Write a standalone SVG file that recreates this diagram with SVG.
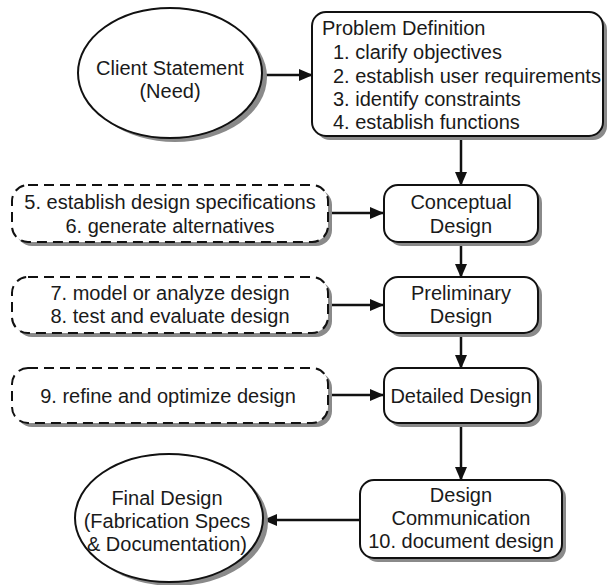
<svg xmlns="http://www.w3.org/2000/svg" width="607" height="585" viewBox="0 0 607 585">
<style>
.box{fill:#fff;stroke:#111;stroke-width:2}
.dash{fill:#fff;stroke:#111;stroke-width:2;stroke-dasharray:10 6}
.sh{fill:#8a8a8a}
.t{font-family:"Liberation Sans",Arial,sans-serif;font-size:20px;fill:#1a1a1a}
.c{text-anchor:middle}
.conn{stroke:#111;stroke-width:2.5;fill:none;marker-end:url(#ah)}
</style>
<defs>
<marker id="ah" markerUnits="userSpaceOnUse" markerWidth="14" markerHeight="12" refX="13" refY="6" orient="auto"><path d="M0,0 L14,6 L0,12 z" fill="#111"/></marker>
</defs>
<rect width="607" height="585" fill="#fff"/>
<g id="connectors">
<path class="conn" d="M263,75 L312,75"/>
<path class="conn" d="M461,136 L461,185"/>
<path class="conn" d="M328,213 L383,213"/>
<path class="conn" d="M461,242 L461,277"/>
<path class="conn" d="M328,305 L383,305"/>
<path class="conn" d="M461,333 L461,368"/>
<path class="conn" d="M328,395 L383,395"/>
<path class="conn" d="M461,423 L461,480"/>
<path class="conn" d="M360,520 L264,520"/>
</g>
<g id="client">
<ellipse class="sh" cx="175" cy="77" rx="92" ry="65"/>
<ellipse class="box" cx="170" cy="73" rx="92" ry="65"/>
<text class="t c" x="170" y="75">Client Statement</text>
<text class="t c" x="170" y="98">(Need)</text>
</g>
<g id="problem">
<rect class="sh" x="316" y="16" width="291" height="124" rx="14"/>
<rect class="box" x="312" y="12" width="291" height="124" rx="14"/>
<text class="t" x="322" y="35">Problem Definition</text>
<text class="t" x="333" y="59">1. clarify objectives</text>
<text class="t" x="333" y="83">2. establish user requirements</text>
<text class="t" x="333" y="106">3. identify constraints</text>
<text class="t" x="333" y="129">4. establish functions</text>
</g>
<g id="spec">
<rect class="sh" x="16" y="189" width="316" height="57" rx="16"/>
<rect class="dash" x="12" y="185" width="316" height="57" rx="16"/>
<text class="t c" x="170" y="209">5. establish design specifications</text>
<text class="t c" x="170" y="233">6. generate alternatives</text>
</g>
<g id="conceptual">
<rect class="sh" x="388" y="189" width="154" height="57" rx="14"/>
<rect class="box" x="384" y="185" width="154" height="57" rx="14"/>
<text class="t c" x="461" y="209">Conceptual</text>
<text class="t c" x="461" y="233">Design</text>
</g>
<g id="model">
<rect class="sh" x="16" y="281" width="316" height="56" rx="16"/>
<rect class="dash" x="12" y="277" width="316" height="56" rx="16"/>
<text class="t c" x="170" y="300">7. model or analyze design</text>
<text class="t c" x="170" y="323">8. test and evaluate design</text>
</g>
<g id="preliminary">
<rect class="sh" x="388" y="281" width="154" height="56" rx="14"/>
<rect class="box" x="384" y="277" width="154" height="56" rx="14"/>
<text class="t c" x="461" y="300">Preliminary</text>
<text class="t c" x="461" y="323">Design</text>
</g>
<g id="refine">
<rect class="sh" x="16" y="372" width="316" height="55" rx="16"/>
<rect class="dash" x="12" y="368" width="316" height="55" rx="16"/>
<text class="t c" x="168" y="403">9. refine and optimize design</text>
</g>
<g id="detailed">
<rect class="sh" x="388" y="372" width="154" height="55" rx="14"/>
<rect class="box" x="384" y="368" width="154" height="55" rx="14"/>
<text class="t c" x="461" y="403">Detailed Design</text>
</g>
<g id="communication">
<rect class="sh" x="364" y="484" width="202" height="78" rx="14"/>
<rect class="box" x="360" y="480" width="202" height="78" rx="14"/>
<text class="t c" x="461" y="502">Design</text>
<text class="t c" x="461" y="525">Communication</text>
<text class="t c" x="461" y="548">10. document design</text>
</g>
<g id="final">
<ellipse class="sh" cx="174" cy="522" rx="94" ry="64"/>
<ellipse class="box" cx="169" cy="518" rx="94" ry="64"/>
<text class="t c" x="167" y="505">Final Design</text>
<text class="t c" x="167" y="528">(Fabrication Specs</text>
<text class="t c" x="167" y="551">&amp; Documentation)</text>
</g>
</svg>
